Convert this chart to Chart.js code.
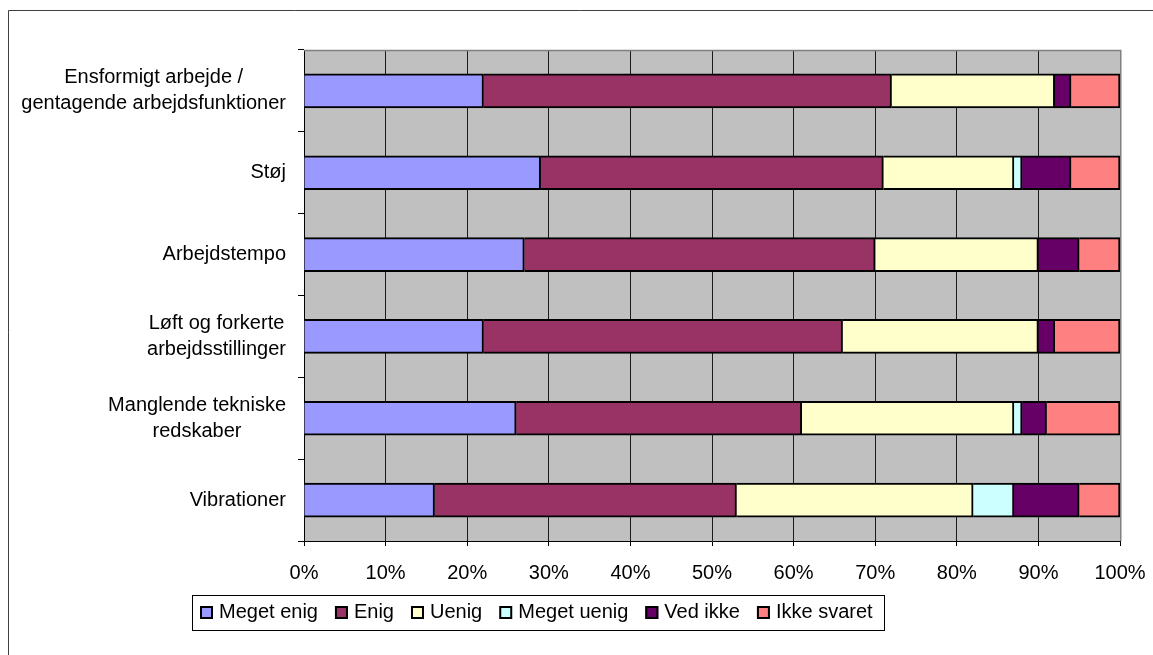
<!DOCTYPE html>
<html lang="da">
<head>
<meta charset="utf-8">
<title>Arbejdsmiljø</title>
<script src="https://cdn.jsdelivr.net/npm/chart.js@4.4.0/dist/chart.umd.min.js"></script>
<style>
  html, body { margin: 0; padding: 0; background: #fff; }
  canvas { display: block; }
</style>
</head>
<body>
<canvas id="miljoChart" width="1153" height="655"></canvas>
<script>
// kategorier, oppefra og ned
const categories = [
    ['Ensformigt arbejde /', 'gentagende arbejdsfunktioner'],
    'Støj',
    'Arbejdstempo',
    ['Løft og forkerte', 'arbejdsstillinger'],
    ['Manglende tekniske', 'redskaber'],
    'Vibrationer'
]

// andel af svarene i procent, en værdi pr. kategori
const megetEnig  = [22, 29, 27, 22, 26, 16]
const enig       = [50, 42, 43, 44, 35, 37]
const uenig      = [20, 16, 20, 24, 26, 29]
const megetUenig = [0, 1, 0, 0, 1, 5]
const vedIkke    = [2, 6, 5, 2, 3, 8]
const ikkeSvaret = [6, 6, 5, 8, 9, 5]

const seriesNames  = ['Meget enig', 'Enig', 'Uenig', 'Meget uenig', 'Ved ikke', 'Ikke svaret']
const seriesValues = [megetEnig, enig, uenig, megetUenig, vedIkke, ikkeSvaret]
const seriesColors = ['#9999FF', '#993366', '#FFFFCC', '#CCFFFF', '#660066', '#FF8080']

const percentTicks = [0, 10, 20, 30, 40, 50, 60, 70, 80, 90, 100]

const FONT_FAMILY = "'Liberation Sans', Arial, sans-serif"
const FONT = `20px ${FONT_FAMILY}`

Chart.defaults.font.family = FONT_FAMILY
Chart.defaults.font.size = 20
Chart.defaults.color = '#000'

// hvid baggrund, ramme og grå plotflade
const frame = {
    id: 'frame',
    beforeDraw(chart) {
        const { ctx, chartArea: a } = chart
        ctx.save()
        ctx.fillStyle = '#fff'
        ctx.fillRect(0, 0, chart.width, chart.height)
        ctx.strokeStyle = '#404040'
        ctx.lineWidth = 1
        ctx.beginPath()
        ctx.moveTo(8.5, chart.height)
        ctx.lineTo(8.5, 10.5)
        ctx.lineTo(chart.width, 10.5)
        ctx.stroke()
        ctx.fillStyle = '#C0C0C0'
        ctx.fillRect(a.left, a.top, a.right - a.left, a.bottom - a.top)
        ctx.restore()
    },
    beforeDatasetsDraw(chart) {
        const { ctx, chartArea: a } = chart
        ctx.save()
        ctx.strokeStyle = '#808080'
        ctx.lineWidth = 1.5
        ctx.beginPath()
        ctx.moveTo(a.left, a.top + 0.5)
        ctx.lineTo(a.right + 0.75, a.top + 0.5)
        ctx.lineTo(a.right + 0.75, a.bottom)
        ctx.stroke()
        ctx.restore()
    }
}

// kategorinavne: flere linjer centreres indbyrdes, blokken højrestilles mod aksen
const categoryLabels = {
    id: 'categoryLabels',
    afterDraw(chart) {
        const { ctx } = chart
        const yScale = chart.scales.y
        const right = chart.chartArea.left - 18
        const lineH = 26
        ctx.save()
        ctx.font = FONT
        ctx.fillStyle = '#000'
        ctx.textAlign = 'center'
        ctx.textBaseline = 'middle'
        chart.data.labels.forEach((label, i) => {
            const lines = Array.isArray(label) ? label : [label]
            const blockW = Math.max(...lines.map(l => ctx.measureText(l).width))
            const cx = right - blockW / 2
            const y0 = yScale.getPixelForValue(i) - (lines.length - 1) * lineH / 2
            lines.forEach((l, j) => ctx.fillText(l, cx, y0 + j * lineH))
        })
        ctx.restore()
    }
}

// forklaring i en ramme under diagrammet
const legendBox = {
    id: 'legendBox',
    afterDraw(chart) {
        const { ctx } = chart
        const sets = chart.data.datasets
        const box = 13, textGap = 6, itemGap = 17
        const centerX = 536, top = 595, height = 35
        ctx.save()
        ctx.font = FONT
        const widths = sets.map(ds => ctx.measureText(ds.label).width)
        const total = widths.reduce((s, w) => s + box + textGap + w, 0) + itemGap * (sets.length - 1)
        let x = Math.round(centerX - total / 2)
        ctx.strokeStyle = '#000'
        ctx.lineWidth = 1
        ctx.strokeRect(x - 8 + 0.5, top + 0.5, Math.round(total) + 19, height)
        const midY = top + height / 2
        ctx.textBaseline = 'middle'
        ctx.textAlign = 'left'
        sets.forEach((ds, i) => {
            const by = Math.round(midY - box / 2)
            ctx.fillStyle = ds.backgroundColor
            ctx.fillRect(x, by, box, box)
            ctx.lineWidth = 2
            ctx.strokeRect(x + 1, by + 1, box - 2, box - 2)
            ctx.fillStyle = '#000'
            ctx.fillText(ds.label, x + box + textGap, midY)
            x += box + textGap + widths[i] + itemGap
        })
        ctx.restore()
    }
}

const ctx_miljo = document.getElementById('miljoChart').getContext('2d')
const miljoChart = new Chart(ctx_miljo, {
    type: 'bar',
    data: {
        labels: categories,
        datasets: seriesNames.map((name, i) => ({
            label: name,
            data: seriesValues[i],
            backgroundColor: seriesColors[i],
            borderColor: '#000',
            borderWidth: 2,
            barThickness: 34
        }))
    },
    options: {
        indexAxis: 'y',
        responsive: false,
        devicePixelRatio: 1,
        animation: false,
        layout: {
            padding: { top: 50, right: 33, bottom: 74, left: 0 }
        },
        scales: {
            x: {
                stacked: true,
                min: 0,
                max: 100,
                afterBuildTicks(scale) {
                    scale.ticks = percentTicks.map(v => ({ value: v }))
                },
                afterFit(scale) {
                    scale.height = 40
                    // "100%" må gerne rage ud over plotfladen
                    scale.paddingLeft = 0
                    scale.paddingRight = 0
                },
                ticks: {
                    padding: 15,
                    maxRotation: 0,
                    callback: v => v + '%'
                },
                grid: {
                    color: c => (c.tick && c.tick.value === 100 ? '#808080' : '#1a1a1a'),
                    tickColor: '#000',
                    tickLength: 5
                },
                border: { color: '#000', width: 1 }
            },
            y: {
                stacked: true,
                afterFit(scale) {
                    scale.width = 304
                },
                ticks: { display: false },
                grid: {
                    drawOnChartArea: false,
                    color: '#000',
                    tickLength: 6
                },
                border: { color: '#000', width: 1 }
            }
        },
        plugins: {
            legend: { display: false },
            title: { display: false },
            tooltip: { enabled: false }
        }
    },
    plugins: [frame, categoryLabels, legendBox]
})
</script>
</body>
</html>
